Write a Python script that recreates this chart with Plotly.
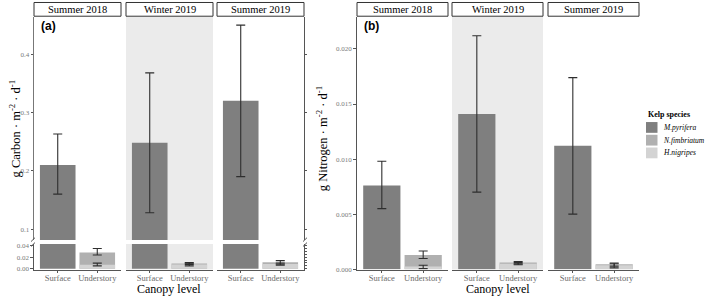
import plotly.graph_objects as go

# ---------------- data ----------------
seasons = ["Summer 2018", "Winter 2019", "Summer 2019"]
canopy = ["Surface", "Understory"]
species = ["M.pyrifera", "N.fimbriatum", "H.nigripes"]
species_colors = ["#7f7f7f", "#b0b0b0", "#d3d3d3"]

# Panel (a): carbon
c_mpyr = [0.210, 0.248, 0.320]
c_mpyr_lo = [0.160, 0.128, 0.190]
c_mpyr_hi = [0.263, 0.368, 0.450]
c_nfim = [0.028, 0.009, 0.011]
c_nfim_lo = [0.0235, 0.0075, 0.008]
c_nfim_hi = [0.0345, 0.0105, 0.014]
c_hnig = [0.007, 0.0075, 0.008]
c_hnig_lo = [0.005, 0.005, 0.006]
c_hnig_hi = [0.0097, 0.0095, 0.010]

# Panel (b): nitrogen
n_mpyr = [0.0076, 0.0141, 0.0112]
n_mpyr_lo = [0.0055, 0.0070, 0.0050]
n_mpyr_hi = [0.0098, 0.0212, 0.0174]
n_nfim = [0.00128, 0.00060, 0.00045]
n_nfim_lo = [0.00097, 0.00048, 0.00028]
n_nfim_hi = [0.00165, 0.00070, 0.00056]
n_hnig = [0.00025, 0.00050, 0.00035]
n_hnig_lo = [0.00005, 0.00040, 0.00012]
n_hnig_hi = [0.00036, 0.00060, 0.00050]

a_upper_ticks = [0.1, 0.2, 0.3, 0.4]
a_upper_labels = ["0.1", "0.2", "0.3", "0.4"]
a_lower_ticks = [0.0, 0.02, 0.04]
a_lower_labels = ["0.00", "0.02", "0.04"]
b_ticks = [0.0, 0.005, 0.010, 0.015, 0.020]
b_labels = ["0.000", "0.005", "0.010", "0.015", "0.020"]

# ---------------- layout helpers ----------------
W, H = 709, 299
def fx(p): return p / W
def fy(p): return 1 - p / H

FONT = "Liberation Serif"
AX_COL = "#555555"
ERR_COL = "#2e2e2e"
TICK_FONT = dict(family=FONT, size=7, color="#7a7a7a")
XTICK_FONT = dict(family=FONT, size=8.5, color="#6a6a6a")

fig = go.Figure()
lay = dict(width=W, height=H, margin=dict(l=0, r=0, t=0, b=0),
           paper_bgcolor="white", plot_bgcolor="rgba(0,0,0,0)",
           barmode="overlay", showlegend=False, shapes=[], annotations=[])

a_cols = [(34, 121), (126, 213), (217, 304)]
b_cols = [(357, 448), (452, 543), (548, 639)]
A_UP = (15, 243)
A_LO = (247, 273)
B_Y = (15, 273)

axis_n = [0]
def new_axes(xpx, ypx, yrange, xkw, ykw):
    axis_n[0] += 1
    n = axis_n[0]
    s = "" if n == 1 else str(n)
    xname, yname = "x" + s, "y" + s
    lay["xaxis" + s] = dict(domain=[fx(xpx[0]), fx(xpx[1])], anchor=yname,
                            type="category", categoryorder="array",
                            categoryarray=canopy, range=[-0.6, 1.6],
                            fixedrange=True, showgrid=False, zeroline=False, **xkw)
    lay["yaxis" + s] = dict(domain=[fy(ypx[1]), fy(ypx[0])], anchor=xname,
                            range=yrange, fixedrange=True, showgrid=False,
                            zeroline=False, **ykw)
    return xname, yname

x_hidden = dict(showline=False, showticklabels=False, ticks="")
x_bottom = dict(showline=True, linecolor=AX_COL, linewidth=1.2, ticks="outside",
                ticklen=2, tickcolor=AX_COL, tickfont=XTICK_FONT,
                ticklabelstandoff=-2)
def y_left(vals, labels, lw=1.0):
    return dict(showline=True, linecolor=AX_COL, linewidth=lw, ticks="outside",
                ticklen=2.5, tickcolor=AX_COL, tickvals=vals, ticktext=labels,
                tickfont=TICK_FONT)
y_hidden = dict(showline=False, showticklabels=False, ticks="")
def y_right(vals):
    return dict(side="right", showline=True, linecolor=AX_COL, linewidth=1.0,
                ticks="outside", ticklen=2, tickcolor=AX_COL, tickvals=vals,
                showticklabels=False)

def add_bars(xn, yn, vals):
    for sp, col, cat, v in zip(species, species_colors,
                               ["Surface", "Understory", "Understory"], vals):
        fig.add_trace(go.Bar(x=[cat], y=[v], width=[0.9], marker=dict(color=col, line=dict(width=0)),
                             name=sp, xaxis=xn, yaxis=yn, hoverinfo="skip"))

def add_err(xn, yn, cat, mid, lo, hi):
    fig.add_trace(go.Scatter(x=[cat], y=[mid], mode="markers",
                             marker=dict(opacity=0, size=1),
                             error_y=dict(type="data", symmetric=False,
                                          array=[hi - mid], arrayminus=[mid - lo],
                                          color=ERR_COL, thickness=1.1, width=4.5),
                             xaxis=xn, yaxis=yn, hoverinfo="skip"))

A_UP_RANGE = [0.081, 0.4644]
A_LO_RANGE = [-0.0012, 0.0422]
B_RANGE = [-0.00003, 0.02293]

# ---------------- panel (a) ----------------
for i, cols in enumerate(a_cols):
    if i == 0:
        yk_up = y_left(a_upper_ticks, a_upper_labels, 0.8)
        yk_lo = y_left(a_lower_ticks, a_lower_labels, 1.2)
    elif i == 2:
        yk_up = y_right(a_upper_ticks)
        yk_lo = y_right([0, 0.005, 0.01, 0.015, 0.02, 0.025, 0.03, 0.035, 0.04])
    else:
        yk_up = y_hidden
        yk_lo = y_hidden
    xu, yu = new_axes(cols, A_UP, A_UP_RANGE, x_hidden, yk_up)
    xl, yl = new_axes(cols, A_LO, A_LO_RANGE, x_bottom, yk_lo)
    vals = [c_mpyr[i], c_nfim[i], c_hnig[i]]
    add_bars(xu, yu, vals)
    add_bars(xl, yl, vals)
    add_err(xu, yu, "Surface", c_mpyr[i], c_mpyr_lo[i], c_mpyr_hi[i])
    add_err(xl, yl, "Understory", c_nfim[i], c_nfim_lo[i], c_nfim_hi[i])
    add_err(xl, yl, "Understory", c_hnig[i], c_hnig_lo[i], c_hnig_hi[i])

# ---------------- panel (b) ----------------
for i, cols in enumerate(b_cols):
    yk = y_left(b_ticks, b_labels, 1.4) if i == 0 else y_hidden
    xb, yb = new_axes(cols, B_Y, B_RANGE, x_bottom, yk)
    add_bars(xb, yb, [n_mpyr[i], n_nfim[i], n_hnig[i]])
    add_err(xb, yb, "Surface", n_mpyr[i], n_mpyr_lo[i], n_mpyr_hi[i])
    add_err(xb, yb, "Understory", n_nfim[i], n_nfim_lo[i], n_nfim_hi[i])
    add_err(xb, yb, "Understory", n_hnig[i], n_hnig_lo[i], n_hnig_hi[i])

# ---------------- decorations ----------------
def rect(x0, y0, x1, y1, fill=None, line=None, lw=0, layer="below"):
    lay["shapes"].append(dict(type="rect", xref="paper", yref="paper",
                              x0=fx(x0), x1=fx(x1), y0=fy(y1), y1=fy(y0),
                              fillcolor=fill if fill else "rgba(0,0,0,0)",
                              line=dict(color=line if line else "rgba(0,0,0,0)", width=lw),
                              layer=layer))

def seg(x0, y0, x1, y1, col=AX_COL, lw=1):
    lay["shapes"].append(dict(type="line", xref="paper", yref="paper",
                              x0=fx(x0), x1=fx(x1), y0=fy(y0), y1=fy(y1),
                              line=dict(color=col, width=lw), layer="above"))

def text(x, y, s, size, family=FONT, color="black", xanchor="center", angle=0):
    lay["annotations"].append(dict(xref="paper", yref="paper", x=fx(x), y=fy(y),
                                   text=s, showarrow=False, xanchor=xanchor,
                                   yanchor="middle", textangle=angle, borderpad=0,
                                   font=dict(family=family, size=size, color=color)))

# winter backgrounds
wa = a_cols[1]
rect(wa[0], A_UP[0], wa[1], A_UP[1], fill="#ebebeb")
rect(wa[0], A_LO[0], wa[1], A_LO[1], fill="#ebebeb")
wb = b_cols[1]
rect(wb[0], B_Y[0], wb[1], B_Y[1], fill="#ebebeb")

# strips
for cols, s in list(zip(a_cols, seasons)) + list(zip(b_cols, seasons)):
    rect(cols[0], 0.5, cols[1], 14.5, fill="white", line="#333333", lw=1, layer="above")
    text((cols[0] + cols[1]) / 2, 7.5, s, 10.5)

# axis break marks (panel a)
for xc in (33, 305):
    seg(xc - 2, 244.5, xc + 2, 240.5)
    seg(xc - 2, 249.5, xc + 2, 245.5)

# panel labels
text(40, 25, "<b>(a)</b>", 12, family="Liberation Sans", xanchor="left")
text(363, 25, "<b>(b)</b>", 12, family="Liberation Sans", xanchor="left")

# axis titles
text(15, 129, "g Carbon · m<sup>-2</sup> · d<sup>-1</sup>", 12.5, angle=-90)
text(322, 140, "g Nitrogen · m<sup>-2</sup> · d<sup>-1</sup>", 12.5, angle=-90)
text((a_cols[0][0] + a_cols[2][1]) / 2, 293, "Canopy level", 12)
text((b_cols[0][0] + b_cols[2][1]) / 2, 293, "Canopy level", 12)

# legend (manual)
text(647, 115, "<b>Kelp species</b>", 8, xanchor="left")
for k, (sp, col) in enumerate(zip(species, species_colors)):
    top = 122.5 + 13 * k
    rect(646, top, 657.5, top + 11, fill=col, layer="above")
    text(662, top + 5.5, "<i>" + sp + "</i>", 7.5, xanchor="left", color="black")

fig.update_layout(**lay)
fig.write_html("out.html", config={"displayModeBar": False, "staticPlot": True},
               post_script="document.body.style.margin='0';document.body.style.overflow='hidden';")
